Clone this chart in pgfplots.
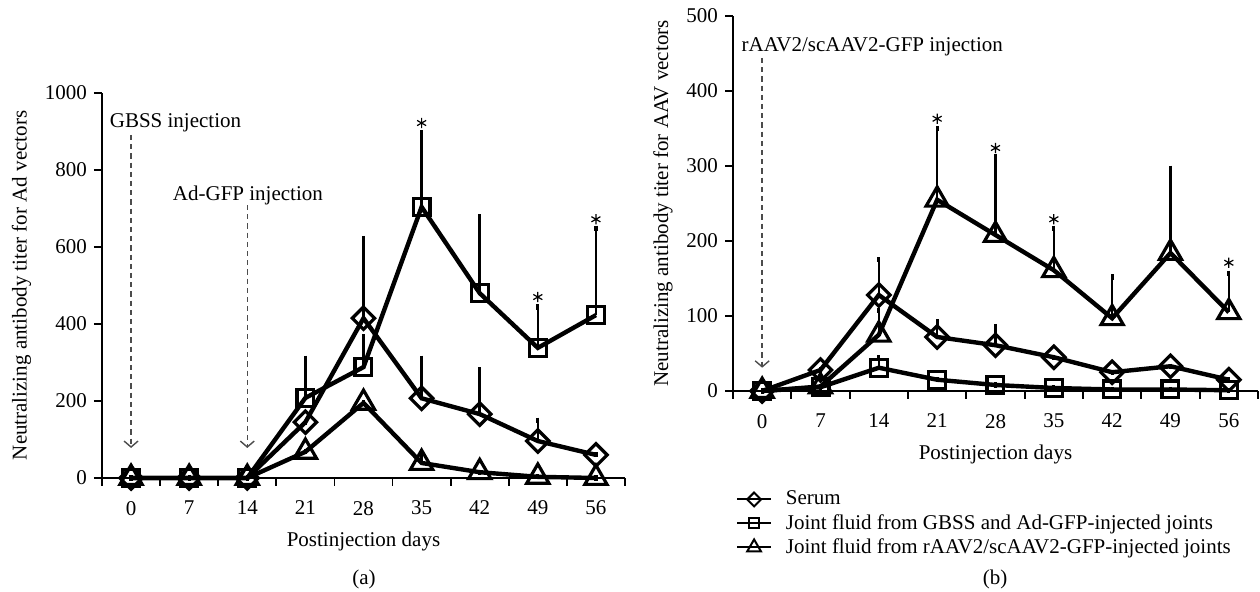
\documentclass[border=0pt]{standalone}
\usepackage{fontspec}
\setmainfont{Liberation Serif}
\usepackage{pgfplots}
\usepackage{pgfplotstable}
\pgfplotsset{compat=1.18}
\usetikzlibrary{arrows.meta}

% panel (a): Ad vectors
\pgfplotstableread{
x y e
0 0 0
7 0 0
14 0 0
21 145 0
28 415 207
35 207 104
42 166 115
49 96 54
56 60 0
}\serumA
\pgfplotstableread{
x y e
0 0 0
7 0 0
14 0 0
21 208 103
28 288 78
35 704 192
42 480 198
49 338 106
56 423 226
}\adA
\pgfplotstableread{
x y e
0 0 0
7 0 0
14 0 0
21 68 0
28 195 0
35 39 29
42 15 0
49 3 0
56 0 0
}\aavA

% panel (b): AAV vectors
\pgfplotstableread{
x y e
0 0 0
7 28 0
14 128 47
21 72 20
28 61 25
35 45 0
42 25 0
49 33 0
56 15 0
}\serumB
\pgfplotstableread{
x y e
0 0 0
7 5 0
14 31 13
21 15 0
28 8 0
35 4 0
42 2 0
49 2 0
56 1 0
}\adB
\pgfplotstableread{
x y e
0 0 0
7 6 0
14 75 32
21 255 95
28 208 105
35 161 56
42 97 55
49 184 113
56 105 52
}\aavB

\newcommand\figfont{\fontsize{10.5}{12.6}\selectfont}

\tikzset{
  inj/.style={draw=black!70, line width=0.7pt, dash pattern=on 2.6pt off 2pt,
    -{Straight Barb[length=3pt, width=7pt]}},
}
\pgfplotsset{
  panel/.style={
    scale only axis,
    font=\figfont,
    axis lines=left,
    axis line style={-, line width=0.9pt},
    tick align=outside,
    major tick length=4pt,
    tick style={black, line width=0.9pt},
    xmin=-3.5, xmax=59.5,
    ymin=0,
    xtick={-3.5,3.5,...,59.5},
    x tick label as interval,
    xticklabels={0,7,14,21,28,35,42,49,56},
    xticklabel shift=4pt,
    xlabel style={yshift=-1.5pt},
    /pgf/number format/assume math mode=true,
    /pgf/number format/1000 sep={},
    xlabel={Postinjection days},
    clip=false,
    legend image code/.code={
      \draw[##1, line width=1pt, mark repeat=2, mark phase=2,
        every mark/.append style={scale=0.62, line width=1pt}]
        plot coordinates {(0cm,0cm) (0.3cm,0cm) (0.6cm,0cm)};
      \path (0.75cm,0cm);
    },
  },
  ebar/.style={
    error bars/.cd, y dir=plus, y explicit, error mark=-,
    error bar style={line width=1.3pt},
    error mark options={line width=1.6pt, mark size=1.3pt},
  },
  ser/.style={black, line width=2.2pt, mark=diamond, mark size=5.6pt,
    mark options={xscale=1.333, fill=white, line width=1.6pt, solid}},
  sqr/.style={black, line width=2.2pt, mark=square, mark size=4.2pt,
    mark options={fill=white, line width=1.6pt, solid}},
  tri/.style={black, line width=2.2pt, mark=triangle, mark size=6.4pt,
    mark options={fill=white, line width=1.6pt, solid}},
  ast/.style={only marks, mark=asterisk, mark size=2.6pt, black,
    mark options={line width=0.6pt}},
}

\begin{document}
\begin{tikzpicture}
\useasboundingbox (0,0) rectangle (630pt,296pt);

\begin{axis}[panel,
  at={(51pt,57pt)}, anchor=south west,
  width=261.5pt, height=192.5pt,
  ymax=1000, ytick={0,200,...,1000},
  ylabel={Neutralizing antibody titer for Ad vectors},
]
\draw[inj] (axis cs:0,891) -- (axis cs:0,78);
\draw[inj] (axis cs:14,709) -- (axis cs:14,78);
\node[anchor=west, inner sep=0pt] at (axis cs:-2.6,922) {GBSS injection};
\node[anchor=west, inner sep=0pt] at (axis cs:5,735) {Ad-GFP injection};
\addplot[ser, ebar] table[x=x, y=y, y error=e] {\serumA};
\addplot[sqr, ebar] table[x=x, y=y, y error=e] {\adA};
\addplot[tri, ebar] table[x=x, y=y, y error=e] {\aavA};
\addplot[ast] coordinates {(35,922) (49,470) (56,672)};
\end{axis}

\begin{axis}[panel,
  at={(366.5pt,100.5pt)}, anchor=south west,
  width=262.5pt, height=187.5pt,
  ymax=500, ytick={0,100,...,500},
  ylabel={Neutralizing antibody titer for AAV vectors},
  legend style={at={(0.005,-0.255)}, anchor=north west, draw=none, fill=none,
    inner sep=0pt, row sep=-0.8pt, font=\figfont},
  legend cell align=left,
]
\draw[inj] (axis cs:0,444) -- (axis cs:0,31);
\node[anchor=west, inner sep=0pt] at (axis cs:-2.5,459) {rAAV2/scAAV2-GFP injection};
\addplot[ser, ebar] table[x=x, y=y, y error=e] {\serumB};
\addlegendentry{Serum}
\addplot[sqr, ebar] table[x=x, y=y, y error=e] {\adB};
\addlegendentry{Joint fluid from GBSS and Ad-GFP-injected joints}
\addplot[tri, ebar] table[x=x, y=y, y error=e] {\aavB};
\addlegendentry{Joint fluid from rAAV2/scAAV2-GFP-injected joints}
\addplot[ast, forget plot] coordinates {(21,363) (28,324) (35,229) (56,171)};
\end{axis}

\node[font=\figfont] at (182pt,6.5pt) {(a)};
\node[font=\figfont] at (497.5pt,6.5pt) {(b)};
\end{tikzpicture}
\end{document}
